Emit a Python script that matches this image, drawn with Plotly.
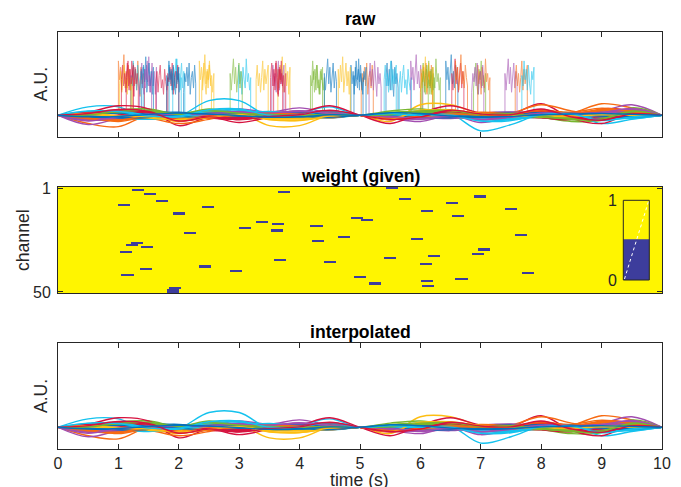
import plotly.graph_objects as go

# ---------------- data ----------------
T_NODES = [0.5 * i for i in range(21)]  # seconds

# smooth channel signals at T_NODES, in 1/100 A.U. (channels 1..50)
SMOOTH = [
    [0, 6, 10, 4, -8, -14, -6, 8, 14, 8, 0, -8, -14, -6, 6, 12, 10, -4, -12, -8, 0],
    [0, -40, -55, 0, -15, -5, 5, 10, 0, -10, 0, -20, -10, 5, 0, 10, 15, 10, 55, 35, 0],
    [0, 5, -10, -5, -30, 0, 10, -50, -50, 0, 0, -30, 50, 50, 5, -10, 0, -10, 10, 0, 0],
    [0, -45, -15, 10, 5, 10, 30, 15, 35, 10, 0, -15, -30, 0, -35, -10, 10, 5, 20, 50, 0],
    [0, 10, 25, 30, 5, 30, 10, 5, -10, 5, 0, 20, 30, 10, -5, 5, -10, -30, -25, 35, 0],
    [0, 40, 40, -15, -5, 70, 70, -5, 10, 40, 0, 10, 5, 5, -75, -45, 5, 10, -40, -20, 0],
    [0, 15, 45, 30, -50, -10, -35, -10, 10, 45, 0, -40, 10, 45, 10, 5, 55, -15, -40, 10, 0],
    [0, 8, 15, 10, -5, -12, -8, 4, 12, 6, 0, -6, -12, -4, 8, 14, 6, -6, -10, -4, 0],
    [0, -10, -20, -15, -40, -20, 5, 12, 8, -5, 0, 4, 10, 6, -4, 10, 50, 20, -5, -8, 0],
    [0, 6, -4, -12, -8, 5, 14, 8, -6, -10, 0, 8, 4, -10, -14, -2, 10, 12, -4, -8, 0],
    [0, -12, -18, -6, 8, 14, 6, -8, -10, 4, 0, -14, -20, -8, 10, 16, 8, -6, -14, -6, 0],
    [0, 10, 18, 22, 10, 20, 12, -4, -10, 6, 0, 10, 22, 18, 4, -8, -12, -22, -10, 12, 0],
    [0, -5, -12, -20, -8, 6, 12, 4, -8, -14, 0, 6, 2, -8, -4, 8, 12, -2, -10, -4, 0],
    [0, 12, 6, -10, -16, -4, 10, 6, -8, -6, 0, -10, 4, 12, 6, -6, -12, -20, 30, 22, 0],
    [0, -6, -14, -8, 4, 12, 8, -4, -12, -8, 0, 10, 16, 6, -8, -12, -4, 8, 14, 6, 0],
    [0, 15, 10, -5, -15, -10, 5, 15, 10, -5, 0, -18, -10, 6, 14, 8, -6, -10, 4, 12, 0],
    [0, -8, -4, 6, 12, 4, -10, -14, -4, 8, 0, -12, 6, 18, 10, -4, -10, -6, 8, 14, 0],
    [0, -20, -8, 6, 4, -6, -12, -2, 10, 8, 0, 4, -10, -16, -6, 8, 14, 4, -8, 22, 0],
    [0, 4, 12, 16, 6, -8, -14, -6, 6, 12, 0, 14, 18, 8, -6, -10, -4, -18, -24, 8, 0],
    [0, 14, 20, 8, -8, -4, 10, 18, 6, -10, 0, -6, -2, 8, -12, -20, -6, 10, -4, -12, 0],
    [0, 8, 14, 12, -10, -14, -20, -6, 8, 22, 0, -16, 2, 14, 8, -2, 16, 2, -18, -6, 0],
    [0, 6, -8, -14, -6, 8, 14, 10, -2, -10, 0, 4, 10, 4, -6, -10, -8, 4, 12, 10, 0],
    [0, -14, -22, -10, -18, -8, 6, 4, -6, -12, 0, -10, -6, 4, 10, 6, 18, 10, 20, 14, 0],
    [0, 4, -6, -10, -16, -4, 8, -12, -18, -6, 0, -14, 12, 16, 6, -6, -4, -10, 4, 6, 0],
    [0, -14, -4, 8, 6, -4, 12, 6, 18, 6, 0, -8, -14, -4, -12, -6, 6, 4, 10, 24, 0],
    [0, 8, 14, 12, -4, 16, 8, 2, -6, -4, 0, 6, 14, 10, -8, -4, -10, -16, -8, 16, 0],
    [0, 18, 14, -6, -10, 8, 22, 10, -4, 12, 0, 4, -4, -6, -20, -14, -2, -8, -18, -10, 0],
    [0, 6, 18, 16, -16, -6, -14, -4, 4, 16, 0, -18, 6, 16, 4, 4, 20, -6, -14, 4, 0],
    [0, -10, -4, 10, 14, 4, -8, -12, -4, 6, 0, -6, -12, -8, 4, 10, 6, -4, -10, -6, 0],
    [0, -20, -26, -4, -14, -6, 2, 6, 0, -6, 0, -8, -4, 2, 6, 4, 14, 6, 24, 16, 0],
    [0, 2, -8, -6, -14, -2, 6, -16, -14, -2, 0, -10, 16, 18, 2, -8, -2, -6, 6, 4, 0],
    [0, -16, -10, 4, 2, 6, 10, 4, 14, 4, 0, -6, -12, 2, -16, -8, 4, 2, 8, 18, 0],
    [0, 6, 10, 16, 2, 14, 4, -2, -8, 2, 0, 4, 12, 14, -2, 2, -6, -12, -14, 14, 0],
    [0, 10, 16, -10, -6, 14, 16, -4, 4, 16, 0, -4, 2, 4, -14, -18, 4, 2, -12, -16, 0],
    [0, 10, 20, 8, -20, -10, -10, -8, 8, 14, 0, -12, -4, 20, 8, 2, 14, -10, -8, 8, 0],
    [0, 4, 10, 6, -6, -10, -4, 6, 10, 4, 0, -4, -10, -12, -4, 6, 12, 8, -4, -8, 0],
    [0, -12, -30, -8, -24, -14, 0, 8, 6, -4, 0, -14, -8, 0, 4, 8, 22, 14, 34, 20, 0],
    [0, 6, -2, -14, -20, -6, 10, -20, -24, -8, 0, -18, 20, 26, 4, -4, -6, -8, 8, -2, 0],
    [0, -24, -14, 6, 8, 10, 18, 8, 20, 10, 0, -10, -18, -2, -20, -4, 8, 6, 14, 28, 0],
    [0, 4, 16, 20, 6, 18, 6, 0, -4, -2, 0, 8, 16, 18, 0, 6, -8, -14, -16, 20, 0],
    [0, 16, 22, -2, -8, 20, 26, -2, 6, 18, 0, 6, -2, -2, -26, -22, 0, 4, -22, -12, 0],
    [0, 14, 24, 14, -24, -4, -18, -2, 6, 20, 0, -22, -2, 18, 2, 0, 26, -4, -20, 2, 0],
    [0, -4, -12, -10, 2, 8, 12, 4, -6, -10, 0, 8, 6, -2, -8, -4, 6, 10, 4, -6, 0],
    [0, -16, -24, -2, -28, -10, 4, 10, 4, -2, 0, -16, -6, 6, 2, 2, 26, 8, 28, 18, 0],
    [0, 8, -4, -8, -22, -10, 4, -22, -26, -4, 0, -20, 24, 22, 8, -2, -2, -4, 2, 0, 0],
    [0, -28, -6, 2, 4, 8, 14, 10, 22, 8, 0, -6, -16, -6, -22, -10, 10, 8, 12, 32, 0],
    [0, 2, 18, 24, 4, 22, 10, 4, 0, 4, 0, 2, 20, 22, 4, 4, -4, -20, -20, 18, 0],
    [0, 20, 18, -4, -4, 26, 30, 0, 2, 22, 0, 8, 0, 0, -28, -26, 2, 6, -26, -8, 0],
    [0, 8, 28, 18, -28, -8, -22, -6, 2, 24, 0, -20, -8, 24, 6, 2, 30, -8, -24, 6, 0],
    [0, -8, -6, 4, 10, 6, -2, -10, -8, 2, 0, 12, 8, -4, -10, -6, 2, 6, 8, 4, 0],
]

# artifacts (weight = 0): channel and start time (s); each lasts ART_DUR seconds
ART_CH = [2, 4, 7, 9, 10, 13, 17, 20, 22, 27, 28, 29, 31, 38, 39, 40, 42, 48, 49, 50,
          1, 3, 6, 8, 12, 14, 18, 15, 16, 19, 21, 24, 26, 25, 35, 36, 34, 33, 37, 43,
          46, 45, 47, 44, 5, 11, 23, 30, 32, 41]
ART_T0 = [1.23, 1.43, 1.62, 1.00, 2.38, 1.90, 3.28, 2.99, 2.08, 1.21, 1.13, 1.38, 1.02, 2.34, 1.35, 2.85, 1.05, 1.84, 1.80, 1.80,
          5.43, 3.64, 5.65, 6.42, 6.01, 6.52, 3.54, 4.85, 5.02, 4.18, 3.52, 4.64, 4.21, 5.84, 3.57, 4.41, 5.40, 6.13, 6.00, 4.90,
          5.15, 6.01, 6.03, 6.58, 6.88, 7.40, 7.57, 6.95, 6.85, 7.68]
ART_DUR = 0.2

# artifact amplitude traces (1/100 A.U.)
BURSTS = [
    [180, 250, 140, 220, 120, 260, 170, 90, 230, 150, 200, 130],
    [220, 130, 240, 160, 280, 110, 190, 250, 140, 210, 100, 230],
    [150, 210, 110, 190, 240, 130, 170, 100, 220, 160, 120, 180],
    [260, 170, 230, 120, 200, 290, 150, 210, 130, 240, 180, 140],
    [130, 190, 250, 150, 100, 220, 170, 260, 140, 190, 110, 200],
    [200, 120, 180, 270, 150, 230, 110, 190, 250, 130, 210, 160],
    [170, 240, 140, 200, 110, 180, 260, 120, 220, 150, 190, 240],
    [240, 150, 210, 100, 230, 170, 130, 270, 160, 200, 120, 180],
    [110, 200, 160, 230, 140, 250, 100, 180, 210, 130, 240, 150],
    [190, 140, 260, 170, 220, 120, 240, 150, 100, 210, 170, 230],
]

X_TICKS = [0, 1, 2, 3, 4, 5, 6, 7, 8, 9, 10]
Y_TICKS_W = [1, 50]
COLORS = ["#0072BD", "#F76A12", "#FDBE12", "#A24DB0", "#78B62E", "#14C2EE", "#D6123F"]
W_BLUE = "#3D3D9C"
W_YELLOW = "#FFF500"

# ---------------- figure ----------------
W, H = 681, 487
def px(x): return x / W
def py(y): return 1 - y / H

fig = go.Figure()

# raw panel: artifacts first, then smooth channels
for i, (ch, t0) in enumerate(zip(ART_CH, ART_T0)):
    vals = BURSTS[i % len(BURSTS)]
    n = len(vals)
    xs = [t0] + [t0 + ART_DUR * k / (n - 1) for k in range(n)] + [t0 + ART_DUR]
    ys = [0] + [v / 100 for v in vals] + [0]
    fig.add_trace(go.Scatter(x=xs, y=ys, mode="lines", xaxis="x", yaxis="y",
                             line=dict(color=COLORS[(ch - 1) % 7], width=1),
                             opacity=0.6, showlegend=False, hoverinfo="skip"))

for ax, ay in (("x", "y"), ("x3", "y3")):
    for c, vals in enumerate(SMOOTH):
        fig.add_trace(go.Scatter(x=T_NODES, y=[v / 100 for v in vals], mode="lines",
                                 xaxis=ax, yaxis=ay,
                                 line=dict(color=COLORS[c % 7], width=1.4, shape="spline"),
                                 showlegend=False, hoverinfo="skip"))

# weight map
NB = 1000
xc = [(k + 0.5) * 10 / NB for k in range(NB)]
z = [[1.0] * NB for _ in range(50)]
for ch, t0 in zip(ART_CH, ART_T0):
    for k in range(NB):
        if t0 <= xc[k] < t0 + ART_DUR:
            z[ch - 1][k] = 0.0
fig.add_trace(go.Heatmap(z=z, x=xc, y=list(range(1, 51)), xaxis="x2", yaxis="y2",
                         colorscale=[[0, W_BLUE], [1, W_YELLOW]], zmin=0, zmax=1,
                         zsmooth=False, showscale=False, hoverinfo="skip"))

XD = [px(58), px(662)]
AX = dict(showline=True, linecolor="#262626", linewidth=1, zeroline=False, showgrid=False,
          tickcolor="#262626", ticklen=5, tickwidth=1, automargin=False,
          tickfont=dict(family="Liberation Sans", size=16, color="#262626"))

fig.update_layout(
    width=W, height=H, margin=dict(l=0, r=0, t=0, b=0, autoexpand=False),
    paper_bgcolor="white", plot_bgcolor="white",
    xaxis=dict(AX, domain=XD, range=[0, 10], tickvals=X_TICKS, ticks="inside", mirror="ticks",
               showticklabels=False, anchor="y"),
    yaxis=dict(AX, domain=[py(136.7), py(31.7)], range=[-1.03, 4], ticks="", mirror=True,
               showticklabels=False, anchor="x"),
    xaxis2=dict(AX, domain=XD, range=[0, 10], ticks="", mirror=True, showticklabels=False,
                anchor="y2"),
    yaxis2=dict(AX, domain=[py(293), py(187)], range=[50.5, 0.5], tickvals=Y_TICKS_W,
                ticks="inside", mirror="ticks", anchor="x2", ticklabelstandoff=3),
    xaxis3=dict(AX, domain=XD, range=[0, 10], tickvals=X_TICKS, ticks="inside", mirror="ticks",
                anchor="y3", ticklabelstandoff=0),
    yaxis3=dict(AX, domain=[py(449), py(343)], range=[-1.03, 4], ticks="", mirror=True,
                showticklabels=False, anchor="x3"),
)

TF = dict(family="Liberation Sans", size=17.6, color="black")
LF = dict(family="Liberation Sans", size=17.6, color="#262626")
ann = [
    dict(text="<b>raw</b>", x=px(360), y=py(19), font=TF),
    dict(text="<b>weight (given)</b>", x=px(360), y=py(176), font=TF),
    dict(text="<b>interpolated</b>", x=px(360), y=py(332), font=TF),
    dict(text="time (s)", x=px(359), y=py(480), font=LF),
    dict(text="A.U.", x=px(41), y=py(84.2), font=LF, textangle=-90),
    dict(text="A.U.", x=px(41), y=py(396), font=LF, textangle=-90),
    dict(text="channel", x=px(23), y=py(240), font=LF, textangle=-90),
    dict(text="1", x=px(612.7), y=py(200), font=dict(family="Liberation Sans", size=16, color="#262626")),
    dict(text="0", x=px(612), y=py(280), font=dict(family="Liberation Sans", size=16, color="#262626")),
]
for a in ann:
    a.update(xref="paper", yref="paper", showarrow=False, xanchor="center", yanchor="middle")
fig.update_layout(annotations=ann)

# inset colour bar
cx0, cx1, cy0, cy1, cym = px(623.3), px(649.3), py(280), py(200.3), py(239.3)
fig.update_layout(shapes=[
    dict(type="rect", xref="paper", yref="paper", x0=cx0, x1=cx1, y0=cym, y1=cy1,
         fillcolor=W_YELLOW, line=dict(width=0)),
    dict(type="rect", xref="paper", yref="paper", x0=cx0, x1=cx1, y0=cy0, y1=cym,
         fillcolor=W_BLUE, line=dict(width=0)),
    dict(type="line", xref="paper", yref="paper", x0=px(624.5), y0=py(279), x1=px(648.5), y1=py(201.5),
         line=dict(color="white", width=1, dash="dot")),
    dict(type="rect", xref="paper", yref="paper", x0=cx0, x1=cx1, y0=cy0, y1=cy1,
         fillcolor="rgba(0,0,0,0)", line=dict(color="#262626", width=1)),
])

fig.write_html("out.html")
